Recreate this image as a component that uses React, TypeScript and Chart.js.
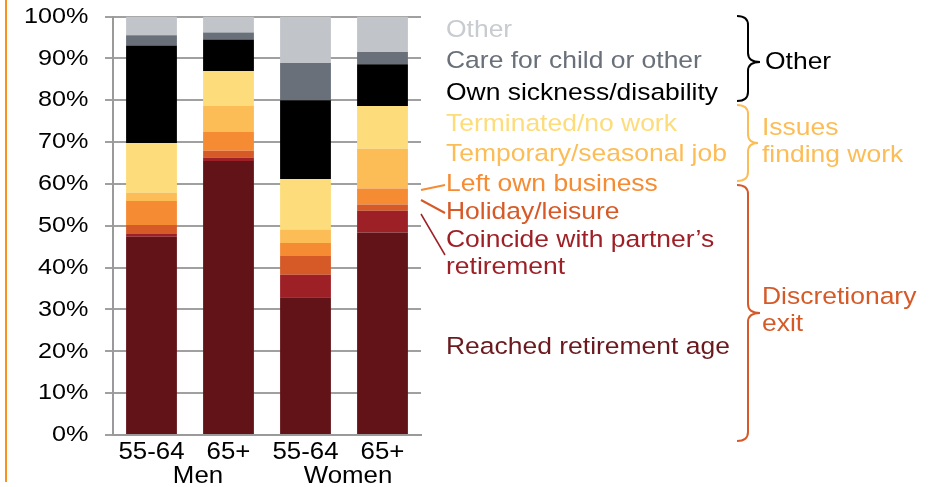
import React, { useEffect, useRef } from 'react';
import { Chart, registerables } from 'chart.js';

Chart.register(...registerables);

const categories = ['55-64', '65+', '55-64', '65+'];
const groups = ['Men', 'Women'];

const reached = [47.4, 65.5, 32.9, 48.4];
const coincide = [0.6, 0.8, 5.4, 5.2];
const holiday = [2.2, 1.6, 4.5, 1.5];
const leftBusiness = [5.7, 4.5, 3.1, 3.8];
const temporary = [2.0, 6.2, 3.2, 9.5];
const terminated = [11.9, 8.4, 12.1, 10.2];
const sickness = [23.3, 7.5, 18.8, 10.0];
const care = [2.4, 1.7, 8.9, 2.9];
const other = [4.5, 3.8, 11.1, 8.5];

const seriesNames = [
  'Reached retirement age',
  'Coincide with partner’s retirement',
  'Holiday/leisure',
  'Left own business',
  'Temporary/seasonal job',
  'Terminated/no work',
  'Own sickness/disability',
  'Care for child or other',
  'Other',
];
const seriesValues = [reached, coincide, holiday, leftBusiness, temporary, terminated, sickness, care, other];
const seriesColors = ['#621318', '#9e2027', '#d65a28', '#f58b33', '#fcbd57', '#fddc7b', '#000000', '#69707a', '#c1c4c8'];
const textColors = ['#6a1a1f', '#9e2027', '#d65a28', '#f58b33', '#fcbd57', '#fddc7b', '#000000', '#69707a', '#c8cbcf'];

const groupLabels = [['Other'], ['Issues', 'finding work'], ['Discretionary', 'exit']];
const groupColors = ['#000000', '#fcbd57', '#d65a28'];

const FONT = '"Liberation Sans", Arial, Helvetica, sans-serif';
const STRETCH = 1.1;

function drawText(ctx: CanvasRenderingContext2D, text: string, x: number, y: number, size: number, color: string, align: CanvasTextAlign, sx = STRETCH) {
  ctx.save();
  ctx.font = `${size}px ${FONT}`;
  ctx.fillStyle = color;
  ctx.textAlign = align;
  ctx.textBaseline = 'middle';
  ctx.translate(x, y);
  ctx.scale(sx, 1);
  ctx.fillText(text, 0, 0);
  ctx.restore();
}

function drawBrace(ctx: CanvasRenderingContext2D, x0: number, xm: number, xt: number, y0: number, ym: number, y1: number, r: number) {
  ctx.beginPath();
  ctx.moveTo(x0, y0);
  ctx.quadraticCurveTo(xm, y0, xm, y0 + r);
  ctx.lineTo(xm, ym - r);
  ctx.quadraticCurveTo(xm, ym, xt, ym);
  ctx.quadraticCurveTo(xm, ym, xm, ym + r);
  ctx.lineTo(xm, y1 - r);
  ctx.quadraticCurveTo(xm, y1, x0, y1);
  ctx.stroke();
}

const annotations = {
  id: 'annotations',
  afterDraw(chart: any) {
    const ctx: CanvasRenderingContext2D = chart.ctx;
    const xs = chart.scales.x;
    const ys = chart.scales.y;
    ctx.save();

    // orange margin line
    ctx.strokeStyle = '#f7941d';
    ctx.lineWidth = 2;
    ctx.beginPath();
    ctx.moveTo(6, 0);
    ctx.lineTo(6, 482);
    ctx.stroke();

    // y tick labels from the scale
    ys.ticks.forEach((t: any) => {
      drawText(ctx, `${t.value}%`, 88.5, ys.getPixelForValue(t.value), 22.5, '#000', 'right', 1.12);
    });

    // x tick labels from the scale
    categories.forEach((c, i) => {
      drawText(ctx, c, xs.getPixelForValue(i), 453, 23.5, '#000', 'center', 1.1);
    });

    // group labels under the categories
    const mx = (xs.getPixelForValue(0) + xs.getPixelForValue(1)) / 2 + 8;
    const wx = (xs.getPixelForValue(2) + xs.getPixelForValue(3)) / 2 + 4;
    drawText(ctx, groups[0], mx, 477, 23.5, '#000', 'center', 1.1);
    drawText(ctx, groups[1], wx, 477, 23.5, '#000', 'center', 1.1);

    // series legend text
    const lx = 446;
    const legendRows: [number, string[]][] = [
      [8, [seriesNames[8]]],
      [7, [seriesNames[7]]],
      [6, [seriesNames[6]]],
      [5, [seriesNames[5]]],
      [4, [seriesNames[4]]],
      [3, [seriesNames[3]]],
      [2, [seriesNames[2]]],
      [1, ['Coincide with partner’s', 'retirement']],
      [0, [seriesNames[0]]],
    ];
    const rowY = [30, 61, 93, 124, 154, 184, 212, 240, 347];
    legendRows.forEach(([idx, lines], i) => {
      lines.forEach((ln, j) => drawText(ctx, ln, lx, rowY[i] + j * 27.5, 24.5, textColors[idx], 'left', 1.08));
    });

    // leader lines
    ctx.lineWidth = 2;
    ctx.strokeStyle = seriesColors[3];
    ctx.beginPath(); ctx.moveTo(421, 190); ctx.lineTo(445, 185); ctx.stroke();
    ctx.strokeStyle = seriesColors[2];
    ctx.beginPath(); ctx.moveTo(421, 200); ctx.lineTo(445, 213); ctx.stroke();
    ctx.strokeStyle = seriesColors[1];
    ctx.lineWidth = 1.5;
    ctx.beginPath(); ctx.moveTo(421, 214); ctx.lineTo(445, 255); ctx.stroke();

    // braces
    ctx.lineWidth = 2;
    ctx.strokeStyle = groupColors[0];
    drawBrace(ctx, 737, 748, 760, 16, 62, 101, 9);
    ctx.strokeStyle = groupColors[1];
    drawBrace(ctx, 737, 748, 758, 105, 143, 181, 9);
    ctx.strokeStyle = groupColors[2];
    drawBrace(ctx, 737, 748, 760, 185, 313, 441, 9);

    // brace labels
    drawText(ctx, groupLabels[0][0], 765, 62, 24.5, groupColors[0], 'left', 1.08);
    drawText(ctx, groupLabels[1][0], 762, 128, 24.5, groupColors[1], 'left', 1.08);
    drawText(ctx, groupLabels[1][1], 762, 155, 24.5, groupColors[1], 'left', 1.08);
    drawText(ctx, groupLabels[2][0], 762, 297, 24.5, groupColors[2], 'left', 1.08);
    drawText(ctx, groupLabels[2][1], 762, 324, 24.5, groupColors[2], 'left', 1.08);

    ctx.restore();
  },
};

export default function App() {
  const ref = useRef<HTMLCanvasElement>(null);
  useEffect(() => {
    if (!ref.current) return;
    const chart = new Chart(ref.current, {
      type: 'bar',
      data: {
        labels: categories,
        datasets: seriesValues.map((vals, i) => ({
          label: seriesNames[i],
          data: vals,
          backgroundColor: seriesColors[i],
          borderWidth: 0,
          barPercentage: 0.66,
          categoryPercentage: 1,
        })),
      },
      options: {
        responsive: false,
        animation: false,
        layout: { padding: { left: 0, right: 508, top: 16.5, bottom: 0 } },
        plugins: { legend: { display: false }, tooltip: { enabled: false } },
        scales: {
          x: {
            stacked: true,
            grid: { display: false, drawTicks: false },
            border: { display: true, color: '#9a9a9a', width: 2 },
            ticks: { display: false },
            afterFit: (s: any) => { s.height = 52; },
          },
          y: {
            stacked: true,
            min: 0,
            max: 100,
            ticks: { display: false, stepSize: 10 },
            grid: { color: '#a0a0a0', lineWidth: 2, tickLength: 8, drawTicks: true },
            border: { display: true, color: '#9a9a9a', width: 2 },
            afterFit: (s: any) => { s.width = 113; },
          },
        },
      },
      plugins: [annotations],
    });
    return () => chart.destroy();
  }, []);
  return (
    <div style={{ position: 'absolute', left: 0, top: 0, width: 929, height: 487, background: '#fff' }}>
      <canvas ref={ref} width={929} height={487} style={{ width: 929, height: 487, display: 'block' }} />
    </div>
  );
}
